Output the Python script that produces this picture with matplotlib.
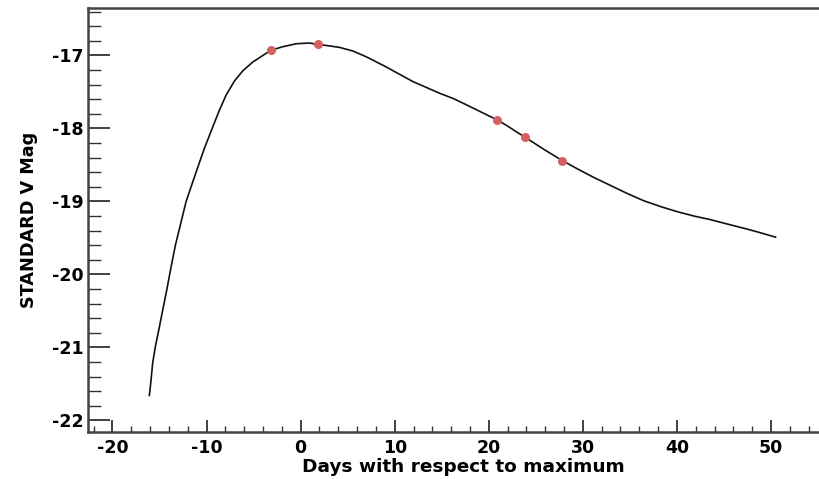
import matplotlib.pyplot as plt
from matplotlib.ticker import MultipleLocator

# V-band light curve (days from maximum, absolute magnitude)
days = [-16.08, -15.90, -15.73, -15.44, -15.09, -14.66, -14.24, -13.77,
        -13.31, -12.17, -11.11, -10.22, -9.34, -8.63, -7.91, -7.03,
        -6.14, -5.08, -4.01, -3.19, -1.88, -0.46, 0.96, 1.84, 2.02, 4.15,
        5.57, 7.00, 9.13, 10.54, 11.96, 13.39, 14.80, 16.22, 18.00, 19.41,
        20.84, 21.91, 22.97, 23.86, 25.77, 27.80, 29.36, 31.13, 32.91,
        34.69, 36.45, 38.23, 40.01, 41.78, 43.56, 45.34, 47.47, 48.88, 50.48]
vmag = [-21.66, -21.45, -21.22, -20.99, -20.77, -20.49, -20.22, -19.90,
        -19.60, -19.00, -18.60, -18.27, -17.98, -17.75, -17.54,
        -17.35, -17.21, -17.09, -17.00, -16.93, -16.88, -16.84, -16.83,
        -16.85, -16.85, -16.89, -16.94, -17.02, -17.16, -17.26, -17.36,
        -17.44, -17.52, -17.59, -17.70, -17.79, -17.88, -17.96, -18.05,
        -18.12, -18.28, -18.44, -18.55, -18.67, -18.78, -18.89, -18.99,
        -19.07, -19.14, -19.20, -19.25, -19.31, -19.38, -19.43, -19.49]

# observed epochs
obs_days = [-3.19, 1.81, 20.87, 23.86, 27.80]
obs_mag = [-16.92, -16.85, -17.88, -18.12, -18.44]

plt.rcParams["font.family"] = ["DejaVu Sans"]
plt.rcParams["font.weight"] = "bold"
plt.rcParams["axes.unicode_minus"] = False

fig = plt.figure(figsize=(8.19, 4.79), dpi=100)
ax = fig.add_axes([88 / 819, 47 / 479, 731 / 819, 424 / 479])

ax.plot(days, vmag, color="#111111", lw=1.2, zorder=2)
ax.plot(obs_days, obs_mag, "o", color="#d65f5f", ms=6.5, mec="none", zorder=3)

ax.set_xlim(-22.6, 55.1)
ax.set_ylim(-22.16, -16.35)

ax.xaxis.set_major_locator(MultipleLocator(10))
ax.xaxis.set_minor_locator(MultipleLocator(2))
ax.yaxis.set_major_locator(MultipleLocator(1))
ax.yaxis.set_minor_locator(MultipleLocator(0.2))

ax.tick_params(axis="x", which="major", direction="in", length=8.5, width=1.3,
               color="#333333", labelsize=12.5, pad=5)
ax.tick_params(axis="x", which="minor", direction="in", length=4.3, width=1.0,
               color="#333333")
ax.tick_params(axis="y", which="major", direction="in", length=16, width=1.3,
               color="#333333", labelsize=12.5, pad=3)
ax.tick_params(axis="y", which="minor", direction="in", length=9, width=1.0,
               color="#333333")

for side in ["left", "bottom", "top"]:
    ax.spines[side].set_linewidth(1.8)
    ax.spines[side].set_color("#444444")
ax.spines["right"].set_visible(False)

ax.set_xlabel("Days with respect to maximum", fontsize=13.3, fontweight="bold")
ax.set_ylabel("STANDARD V Mag", fontsize=12.7, fontweight="bold")
ax.xaxis.set_label_coords(0.513, -0.062)
ax.yaxis.set_label_coords(-0.068, 0.5)

fig.savefig("out.png", dpi=100)
